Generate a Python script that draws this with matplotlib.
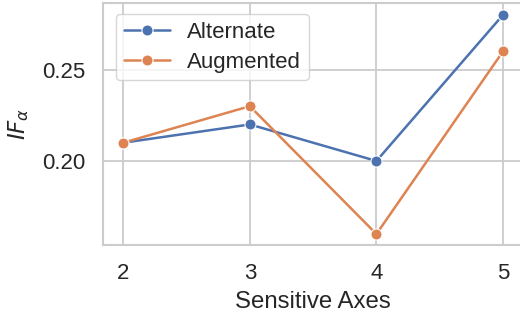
import matplotlib
matplotlib.use("Agg")
import matplotlib.pyplot as plt
import seaborn as sns

x_vals = [2, 3, 4, 5]
alternate = [0.21, 0.22, 0.20, 0.28]
augmented = [0.21, 0.23, 0.16, 0.26]
x_ticks = [2, 3, 4, 5]
y_ticks = [0.20, 0.25]

sns.set_theme(style="whitegrid")
plt.rcParams['font.family'] = ['Liberation Sans', 'DejaVu Sans']
plt.rcParams['mathtext.fontset'] = 'dejavusans'

fig = plt.figure(figsize=(5.2, 3.18), dpi=100)
ax = fig.add_axes([103/520, (318-245)/318, (522-103)/520, (245-3)/318])
pal = sns.color_palette("deep")
ax.plot(x_vals, alternate, color=pal[0], marker='o', lw=1.8, ms=8,
        mec='white', mew=0.8, label='Alternate')
ax.plot(x_vals, augmented, color=pal[1], marker='o', lw=1.8, ms=8,
        mec='white', mew=0.8, label='Augmented')
ax.set_xlim(1.84, 5.15)
ax.set_ylim(0.154, 0.2865)
ax.set_xticks(x_ticks)
ax.set_yticks(y_ticks)
ax.set_yticklabels([f"{v:.2f}" for v in y_ticks])
ax.tick_params(labelsize=16, colors='#262626', pad=7)
ax.set_xlabel("Sensitive Axes", fontsize=17.3, color='#262626', labelpad=5)
ax.set_ylabel(r"$IF_\alpha$", fontsize=16.5, color='#262626', labelpad=8)
for s in ax.spines.values():
    s.set_color('#cccccc')
    s.set_linewidth(1.5)
ax.grid(color='#cccccc', lw=1.3)
ax.legend(loc='upper left', fontsize=16, frameon=True, borderpad=0.35,
          handlelength=2.1, handletextpad=0.75, labelspacing=0.4,
          borderaxespad=0, bbox_to_anchor=((116-103)/419, (245-14)/242))
fig.savefig("out.png", dpi=100)
